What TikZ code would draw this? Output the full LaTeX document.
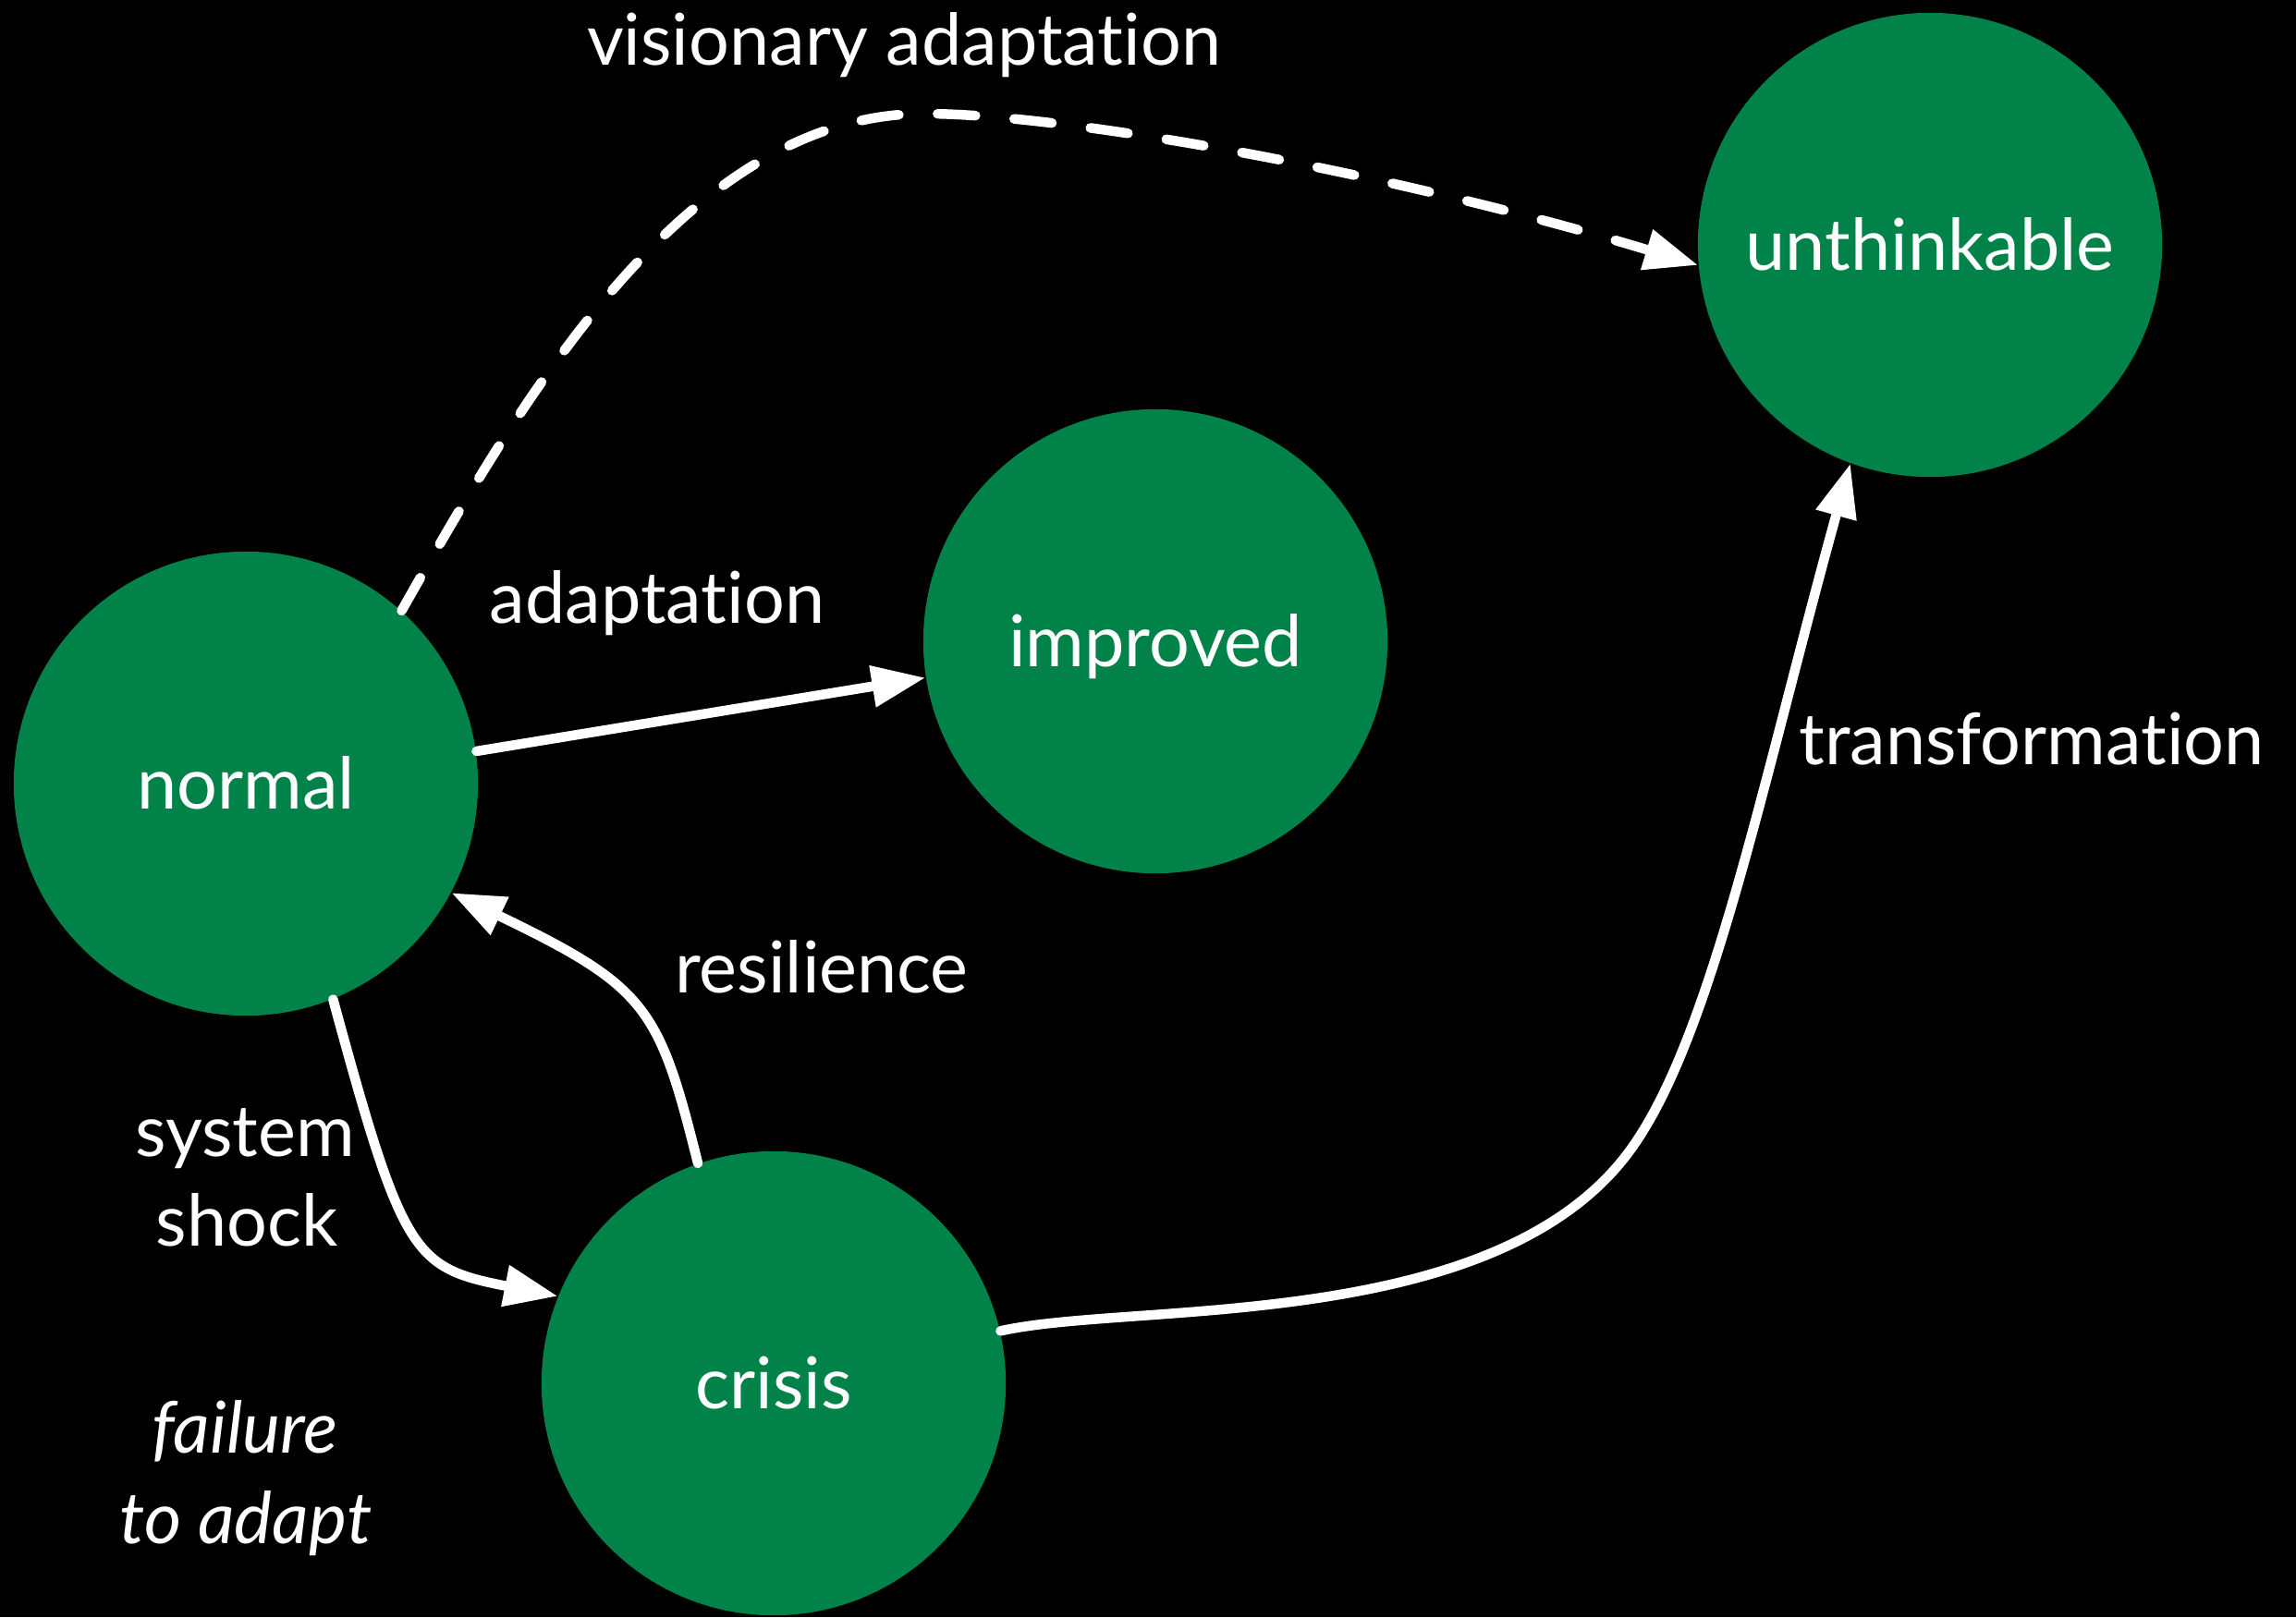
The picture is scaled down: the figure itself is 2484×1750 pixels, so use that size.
\documentclass[tikz,border=0pt]{standalone}
\usepackage{fontspec}
\setmainfont{Lato}[Ligatures={NoCommon,NoContextual,NoRare},RawFeature={-clig;-dlig;-rlig}]
\usetikzlibrary{arrows.meta}
\definecolor{stategreen}{RGB}{0,130,72}
\newcommand\lblfont{\fontsize{22pt}{26pt}\selectfont}
\begin{document}
\begin{tikzpicture}[x=0.01cm,y=-0.01cm,
  state/.style={circle, fill=stategreen, minimum size=5.02cm, inner sep=0pt,
    text=white, font=\lblfont, text height=0.55cm, text depth=0cm},
  lbl/.style={text=white, font=\lblfont, anchor=base, inner sep=0pt},
  conn/.style={draw=white, line width=0.105cm, line cap=round,
    -{Triangle[length=0.58cm,width=0.43cm]}},
  dashconn/.style={conn, dash pattern=on 0.41cm off 0.42cm}]
\fill[black] (0,0) rectangle (2484,1750);
\useasboundingbox (0,0) rectangle (2484,1750);

\node[state] (normal) at (266,848) {normal};
\node[state] (improved) at (1250,694) {improved};
\node[state] (unthinkable) at (2088,265) {unthinkable};
\node[state] (crisis) at (837,1497) {crisis};

\node[lbl] (lvis) at (978,70) {visionary adaptation};
\node[lbl] (ladapt) at (711,674) {adaptation};
\node[lbl] (ltrans) at (2198,827) {transformation};
\node[lbl] (lres) at (889,1074) {resilience};
\node[lbl] (lsys) at (265,1251) {system};
\node[lbl] (lshock) at (267,1348) {shock};
\node[lbl] (lfail) at (265,1572) {\itshape failure};
\node[lbl] (lto) at (266,1670) {\itshape to adapt};

\draw[conn] (normal.8.6) -- (improved.189);
\draw[conn] (crisis.109.5) .. controls (713,1090) and (700,1068) .. (normal.-28.3);
\draw[conn] (normal.-68.9) .. controls (436,1360) and (447,1372) .. (crisis.158);
\draw[conn] (crisis.13.2) .. controls (1226,1408) and (1624,1445) .. (1767,1240)
  .. controls (1853,1117) and (1908,841) .. (unthinkable.250.4);
\draw[dashconn] (normal.48.9) .. controls (560,440) and (740,123) .. (1000,123)
  .. controls (1150,123) and (1500,185) .. (unthinkable.185.4);
\end{tikzpicture}
\end{document}
